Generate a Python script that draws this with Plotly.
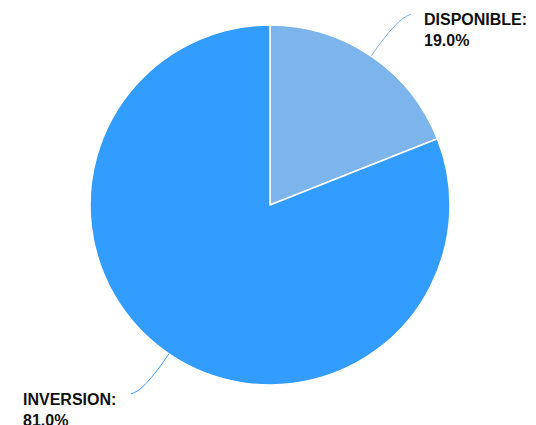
import math
import plotly.graph_objects as go

labels = ["DISPONIBLE", "INVERSION"]
values = [19.0, 81.0]
colors = ["#7cb5ec", "#339cff"]

OFF = 8  # page body margin in the browser
W, H = 536 - OFF, 425 - OFF
CX, CY, R = 270, 205, 180  # pie center/radius in screen pixels


def px(x):
    return (x - OFF) / W


def py(y):
    return 1 - (y - OFF) / H


dom_x = [px(CX - R), px(CX + R)]
dom_y = [py(CY + R), py(CY - R)]

fig = go.Figure(go.Pie(
    labels=labels, values=values, sort=False, direction="clockwise", rotation=0,
    marker=dict(colors=colors, line=dict(color="white", width=1.5)),
    textinfo="none", hoverinfo="label+percent", showlegend=False,
    domain=dict(x=dom_x, y=dom_y),
))

total = sum(values)
cum = 0.0
shapes = []
annotations = []
for lab, val, col in zip(labels, values, colors):
    mid = (cum + val / 2) / total * 2 * math.pi
    cum += val
    sx, sy = math.sin(mid), -math.cos(mid)
    right = sx >= 0
    p0 = (CX + R * sx, CY + R * sy)
    p1 = (CX + (R + 46) * sx, CY + (R + 46) * sy)
    if right:
        p2 = (p1[0] + 14, p1[1] - 4)
    else:
        p2 = (p1[0] - 12, p1[1] + 2)
    path = "M {:.3f},{:.3f} Q {:.3f},{:.3f} {:.3f},{:.3f}".format(
        px(p0[0]), py(p0[1]), px(p1[0]), py(p1[1]), px(p2[0]), py(p2[1]))
    shapes.append(dict(type="path", xref="paper", yref="paper", path=path,
                       line=dict(color=col, width=1)))
    pct = val / total * 100
    annotations.append(dict(
        xref="paper", yref="paper",
        x=px(p2[0] + (11 if right else -13)), y=py(p2[1] - 5),
        xanchor="left" if right else "right", yanchor="top", align="left",
        text="{}:<br>{:.1f}%".format(lab, pct), showarrow=False,
        font=dict(family="Liberation Sans, Arial, sans-serif", size=16,
                  color="#111111", weight="bold"),
    ))

fig.update_layout(
    width=W, height=H, margin=dict(l=0, r=0, t=0, b=0),
    paper_bgcolor="white", plot_bgcolor="white",
    shapes=shapes, annotations=annotations,
)

fig.write_html("out.html")
